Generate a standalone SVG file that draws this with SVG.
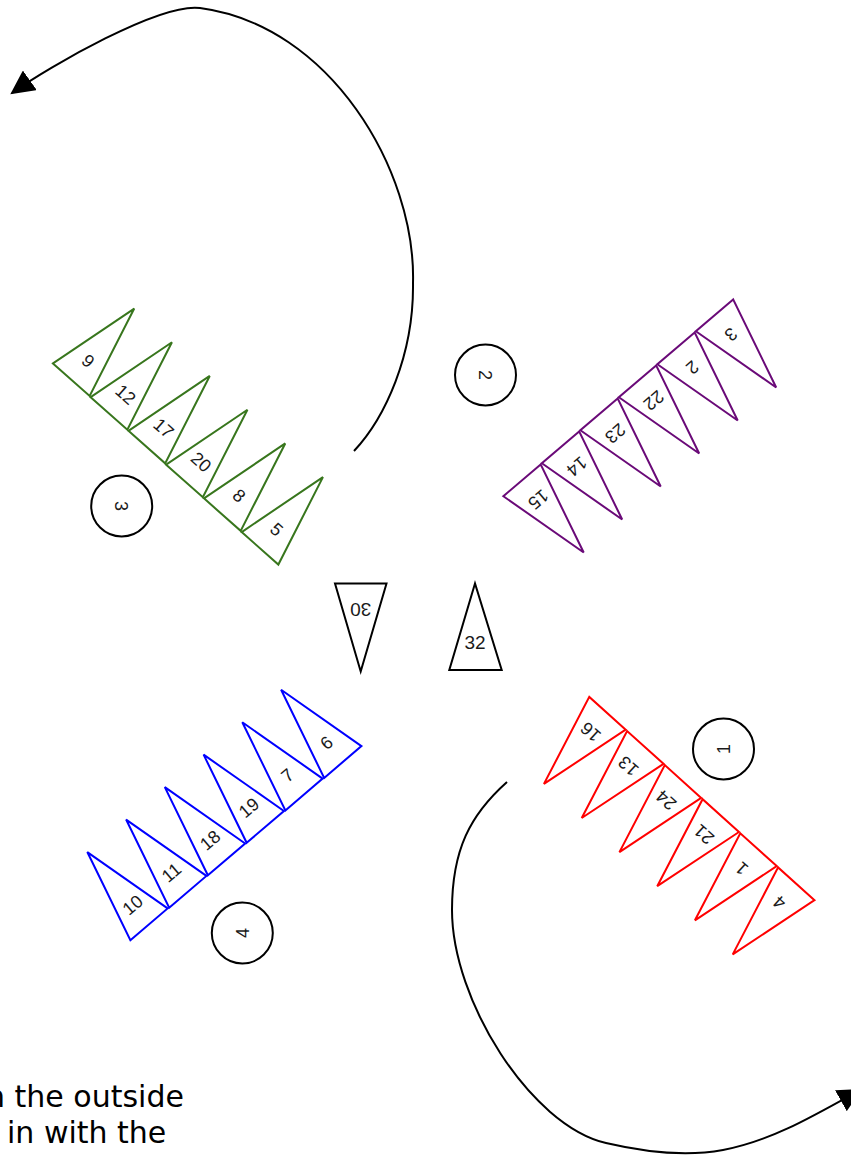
<svg xmlns="http://www.w3.org/2000/svg" xmlns:xlink="http://www.w3.org/1999/xlink" width="851" height="1159" viewBox="0 0 851 1159">
<style>
.tri{fill:#fff;stroke-width:2;stroke-linejoin:miter}
.gr{stroke:#38761d}
.pu{stroke:#6a0a78}
.rd{stroke:#ff0000}
.bl{stroke:#0000ff}
.bk{stroke:#000}
.lbl{font-family:"Liberation Sans",Arial,sans-serif;font-size:18px;text-anchor:middle;fill:#1a1a1a}
.lbl2{font-family:"Liberation Sans",Arial,sans-serif;font-size:19px;text-anchor:middle;fill:#1a1a1a}
.circ{fill:#fff;stroke:#000;stroke-width:2}
.conn{fill:none;stroke:#000;stroke-width:2}
.cap{font-family:"DejaVu Sans","Liberation Sans",sans-serif;font-size:30px;fill:#000}
</style>
<defs>
<polygon id="tri" points="-24.5,0 24.5,0 0,-95"/>
<marker id="ah" markerUnits="userSpaceOnUse" markerWidth="24" markerHeight="24" refX="21" refY="11.5" orient="auto" viewBox="0 0 23 23">
<path d="M0,0 L23,11.5 L0,23 z" fill="#000"/>
</marker>
</defs>
<rect width="851" height="1159" fill="#fff"/>

<g id="connectors">
<path id="arrow-top" class="conn" marker-end="url(#ah)" d="M354,451 C385,418 414,355 413,283 C416,170 330,25 200,8 C160,2.8 50,66 12,93"/>
<path id="arrow-bottom" class="conn" marker-end="url(#ah)" d="M507,782 C470,815 452,850 452,910 C452,1000 530,1125 606,1143 C640,1151 685,1157 723,1150 C770,1141 810,1118 860,1090"/>
</g>

<!-- green group -->
<g id="t9" transform="translate(71.3,379.7) rotate(41.5)"><use xlink:href="#tri" href="#tri" class="tri gr"/><text class="lbl" y="-19">9</text></g>
<g id="t12" transform="translate(109,413.4) rotate(41.5)"><use xlink:href="#tri" href="#tri" class="tri gr"/><text class="lbl" y="-19">12</text></g>
<g id="t17" transform="translate(146.8,447.1) rotate(41.5)"><use xlink:href="#tri" href="#tri" class="tri gr"/><text class="lbl" y="-19">17</text></g>
<g id="t20" transform="translate(184.5,480.9) rotate(41.5)"><use xlink:href="#tri" href="#tri" class="tri gr"/><text class="lbl" y="-19">20</text></g>
<g id="t8" transform="translate(222.3,514.6) rotate(41.5)"><use xlink:href="#tri" href="#tri" class="tri gr"/><text class="lbl" y="-19">8</text></g>
<g id="t5" transform="translate(260,548.3) rotate(41.5)"><use xlink:href="#tri" href="#tri" class="tri gr"/><text class="lbl" y="-19">5</text></g>

<!-- purple group -->
<g id="t15" transform="translate(522,480.3) rotate(139.5)"><use xlink:href="#tri" href="#tri" class="tri pu"/><text class="lbl" y="-19">15</text></g>
<g id="t14" transform="translate(560.5,447.3) rotate(139.5)"><use xlink:href="#tri" href="#tri" class="tri pu"/><text class="lbl" y="-19">14</text></g>
<g id="t23" transform="translate(599,414.3) rotate(139.5)"><use xlink:href="#tri" href="#tri" class="tri pu"/><text class="lbl" y="-19">23</text></g>
<g id="t22" transform="translate(637.5,381.3) rotate(139.5)"><use xlink:href="#tri" href="#tri" class="tri pu"/><text class="lbl" y="-19">22</text></g>
<g id="t2" transform="translate(676,348.3) rotate(139.5)"><use xlink:href="#tri" href="#tri" class="tri pu"/><text class="lbl" y="-19">2</text></g>
<g id="t3" transform="translate(714.5,315.3) rotate(139.5)"><use xlink:href="#tri" href="#tri" class="tri pu"/><text class="lbl" y="-19">3</text></g>

<!-- red group -->
<g id="t16" transform="translate(607.5,713.3) rotate(222)"><use xlink:href="#tri" href="#tri" class="tri rd"/><text class="lbl" y="-19">16</text></g>
<g id="t13" transform="translate(645.3,747.4) rotate(222)"><use xlink:href="#tri" href="#tri" class="tri rd"/><text class="lbl" y="-19">13</text></g>
<g id="t24" transform="translate(683,781.5) rotate(222)"><use xlink:href="#tri" href="#tri" class="tri rd"/><text class="lbl" y="-19">24</text></g>
<g id="t21" transform="translate(720.8,815.6) rotate(222)"><use xlink:href="#tri" href="#tri" class="tri rd"/><text class="lbl" y="-19">21</text></g>
<g id="t1" transform="translate(758.5,849.7) rotate(222)"><use xlink:href="#tri" href="#tri" class="tri rd"/><text class="lbl" y="-19">1</text></g>
<g id="t4" transform="translate(796.3,883.8) rotate(222)"><use xlink:href="#tri" href="#tri" class="tri rd"/><text class="lbl" y="-19">4</text></g>

<!-- blue group -->
<g id="t10" transform="translate(149,924.3) rotate(-40.5)"><use xlink:href="#tri" href="#tri" class="tri bl"/><text class="lbl" y="-19">10</text></g>
<g id="t11" transform="translate(187.8,891.8) rotate(-40.5)"><use xlink:href="#tri" href="#tri" class="tri bl"/><text class="lbl" y="-19">11</text></g>
<g id="t18" transform="translate(226.5,859.4) rotate(-40.5)"><use xlink:href="#tri" href="#tri" class="tri bl"/><text class="lbl" y="-19">18</text></g>
<g id="t19" transform="translate(265.3,826.9) rotate(-40.5)"><use xlink:href="#tri" href="#tri" class="tri bl"/><text class="lbl" y="-19">19</text></g>
<g id="t7" transform="translate(304,794.5) rotate(-40.5)"><use xlink:href="#tri" href="#tri" class="tri bl"/><text class="lbl" y="-19">7</text></g>
<g id="t6" transform="translate(342.8,762) rotate(-40.5)"><use xlink:href="#tri" href="#tri" class="tri bl"/><text class="lbl" y="-19">6</text></g>

<!-- centre triangles -->
<g id="t30"><polygon class="tri bk" points="335,583.5 386.5,583.5 360.7,671.5"/><text class="lbl2" transform="translate(360.7,610) rotate(180)" y="7">30</text></g>
<g id="t32"><polygon class="tri bk" points="475,583.5 449.3,670 501.7,670"/><text class="lbl2" x="475" y="649">32</text></g>

<!-- circles -->
<g id="c1"><circle class="circ" cx="723.5" cy="749" r="30.5"/><text class="lbl" transform="translate(723.5,749) rotate(-90)" y="6.5">1</text></g>
<g id="c2"><circle class="circ" cx="485.5" cy="375" r="30.5"/><text class="lbl" transform="translate(485.5,375) rotate(90)" y="6.5">2</text></g>
<g id="c3"><circle class="circ" cx="121.7" cy="506" r="30.5"/><text class="lbl" transform="translate(121.7,506) rotate(90)" y="6.5">3</text></g>
<g id="c4"><circle class="circ" cx="242.3" cy="933" r="30.5"/><text class="lbl" transform="translate(242.3,933) rotate(-90)" y="6.5">4</text></g>

<!-- caption -->
<text class="cap" x="-14" y="1107">n the outside</text>
<text class="cap" x="7" y="1143">in with the</text>
</svg>
